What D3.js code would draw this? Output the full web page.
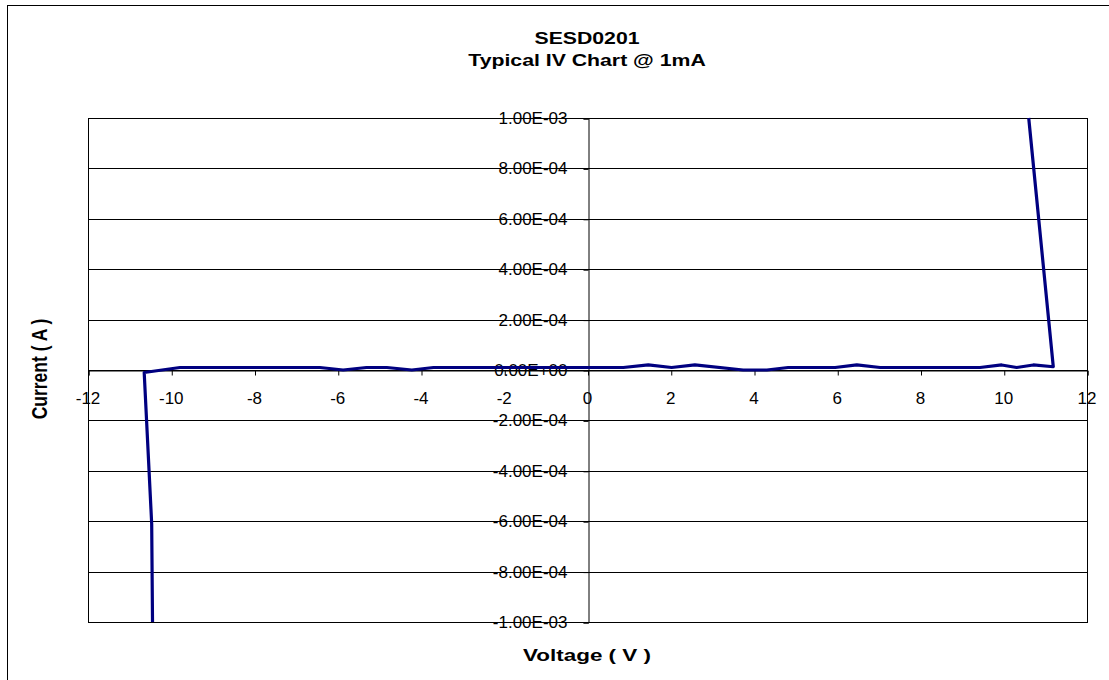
<!DOCTYPE html>
<html>
<head>
<meta charset="utf-8">
<script src="https://cdn.jsdelivr.net/npm/d3@7/dist/d3.min.js"></script>
<style>
  html, body { margin: 0; padding: 0; background: #fff; }
  svg { display: block; font-family: "Liberation Sans", Arial, sans-serif; }
</style>
</head>
<body>
<svg id="chart" width="1109" height="680"></svg>
<script>
// ---- data ----
const titleLines = ["SESD0201", "Typical IV Chart @ 1mA"];
const xTitle = "Voltage ( V )";
const yTitle = "Current ( A )";
const voltage = [-10.45, -10.47, -10.65, -9.79, -6.43, -5.87, -5.31, -4.82, -4.22, -3.70,
                 0.86, 1.46, 2.02, 2.58, 3.74, 4.31, 4.82, 5.95, 6.47, 7.03,
                 9.43, 9.95, 10.31, 10.71, 11.19, 10.60];
const current = [-1.0e-3, -6.1e-4, -1.0e-5, 1.0e-5, 1.0e-5, 0, 1.0e-5, 1.0e-5, 0, 1.0e-5,
                 1.0e-5, 2.0e-5, 1.0e-5, 2.0e-5, 0, 0, 1.0e-5, 1.0e-5, 2.0e-5, 1.0e-5,
                 1.0e-5, 2.0e-5, 1.0e-5, 2.0e-5, 1.3e-5, 1.0e-3];
const xTicks = [-12, -10, -8, -6, -4, -2, 0, 2, 4, 6, 8, 10, 12];
const yTicks = [-1e-3, -8e-4, -6e-4, -4e-4, -2e-4, 0, 2e-4, 4e-4, 6e-4, 8e-4, 1e-3];

// ---- layout ----
const svg = d3.select("#chart");
const plot = { left: 88, right: 1087, top: 118, bottom: 622 };

const x = d3.scaleLinear().domain([-12, 12]).range([plot.left, plot.right]);
const y = d3.scaleLinear().domain([-1e-3, 1e-3]).range([plot.bottom, plot.top]);

function sci(v) {
  if (v === 0) return "0.00E+00";
  const s = v.toExponential(2); // e.g. "1.00e-3"
  const [m, e] = s.split("e");
  const ei = parseInt(e, 10);
  const es = (ei < 0 ? "-" : "+") + String(Math.abs(ei)).padStart(2, "0");
  return m + "E" + es;
}

// outer border
svg.append("rect")
  .attr("x", 7.5).attr("y", 5.5).attr("width", 1120).attr("height", 700)
  .attr("fill", "none").attr("stroke", "#000").attr("stroke-width", 1);

// gridlines (horizontal)
svg.append("g").selectAll("line").data(yTicks).join("line")
  .attr("x1", plot.left).attr("x2", plot.right)
  .attr("y1", d => Math.round(y(d)) + 0.5).attr("y2", d => Math.round(y(d)) + 0.5)
  .attr("stroke", "#000").attr("stroke-width", 1);

// plot frame
svg.append("rect")
  .attr("x", plot.left + 0.5).attr("y", plot.top + 0.5)
  .attr("width", plot.right - plot.left).attr("height", plot.bottom - plot.top)
  .attr("fill", "none").attr("stroke", "#000").attr("stroke-width", 1);

// x axis through y=0
const xAxis = d3.axisBottom(x).tickValues(xTicks).tickSize(5).tickFormat(d => d);
const gx = svg.append("g")
  .attr("transform", `translate(0.5,${Math.round(y(0)) + 0.5})`)
  .call(xAxis);
gx.select(".domain").attr("stroke", "#000");
gx.selectAll(".tick line").attr("stroke", "#000");
gx.selectAll(".tick text").remove();

// y axis through x=0
const yAxis = d3.axisLeft(y).tickValues(yTicks).tickSize(5).tickFormat(sci);
const gy = svg.append("g")
  .attr("transform", `translate(${Math.round(x(0)) + 0.5},0.5)`)
  .call(yAxis);
gy.select(".domain").attr("stroke", "#000");
gy.selectAll(".tick line").attr("stroke", "#000");
gy.selectAll(".tick text").remove();

// stretched text helper
function stext(px, py, txt, opts) {
  const g = svg.append("g").attr("transform",
    `translate(${px},${py}) scale(${opts.sx || 1},1)` + (opts.rotate ? ` rotate(${opts.rotate})` : ""));
  g.append("text")
    .attr("x", 0).attr("y", 0)
    .attr("text-anchor", opts.anchor || "middle")
    .attr("font-size", opts.size)
    .attr("font-weight", opts.bold ? "bold" : "normal")
    .attr("fill", "#000")
    .text(txt);
}

// x tick labels
xTicks.forEach(t => stext(x(t), 404, String(t), { size: 17 }));
// y tick labels
yTicks.forEach(t => stext(x(0) - 20, y(t) + 6, sci(t), { size: 17, anchor: "end" }));

// titles
stext(587, 44, titleLines[0], { size: 17, bold: true, sx: 1.25 });
stext(587, 66, titleLines[1], { size: 17, bold: true, sx: 1.25 });
stext(587, 661, xTitle, { size: 17, bold: true, sx: 1.32 });
stext(47, 369, yTitle, { size: 17.5, bold: true, sx: 1.3, rotate: -90 });

// series line
const line = d3.line().x((d, i) => x(voltage[i])).y(d => y(d));
svg.append("path")
  .datum(current)
  .attr("d", line)
  .attr("fill", "none")
  .attr("stroke", "#000080")
  .attr("stroke-width", 3.2)
  .attr("stroke-linejoin", "round");
</script>
</body>
</html>
